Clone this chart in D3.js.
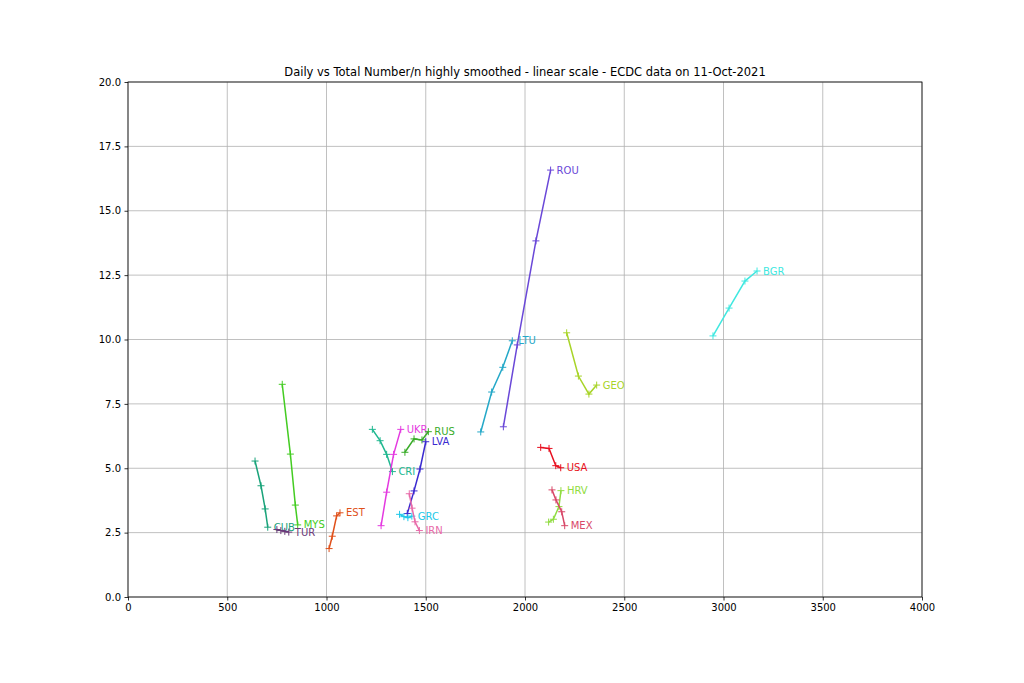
<!DOCTYPE html>
<html><head><meta charset="utf-8">
<script src="https://cdn.jsdelivr.net/npm/d3@7"></script>
<style>body{margin:0;background:#fff;} text{font-family:"DejaVu Sans",sans-serif;}</style>
</head><body>
<svg id="chart" width="1024" height="683"></svg>
<script>
const title = "Daily vs Total Number/n highly smoothed - linear scale - ECDC data on 11-Oct-2021";
const countries = ["CUB","MYS","TUR","EST","CRI","UKR","RUS","LVA","GRC","IRN","LTU","ROU","GEO","USA","HRV","MEX","BGR"];
const colors = ["#1aa37a","#44cc22","#6b3a7a","#e0501a","#20b890","#e43ae0","#3aac2a","#3a2ad0","#20c8e8","#e86aa8","#24a8c8","#6a48d8","#a8d428","#e81020","#90dc40","#d84868","#40e8e0"];
// total (x) values per country, oldest -> latest (label at latest)
const xCUB=[640,670,691,704], yCUB=[5.28,4.32,3.42,2.71];
const xMYS=[777,818,843,855], yMYS=[8.26,5.55,3.57,2.80];
const xTUR=[750,770,790,810], yTUR=[2.62,2.58,2.55,2.52];
const xEST=[1013,1029,1051,1068], yEST=[1.88,2.36,3.15,3.27];
const xCRI=[1231,1270,1303,1332], yCRI=[6.51,6.07,5.54,4.87];
const xUKR=[1275,1303,1338,1374], yUKR=[2.77,4.07,5.54,6.51];
const xRUS=[1395,1441,1481,1513], yRUS=[5.62,6.14,6.10,6.42];
const xLVA=[1407,1441,1471,1500], yLVA=[3.24,4.12,4.97,6.03];
const xGRC=[1368,1390,1410,1430], yGRC=[3.21,3.12,3.08,3.14];
const xIRN=[1417,1431,1446,1468], yIRN=[4.01,3.45,2.92,2.58];
const xLTU=[1777,1832,1888,1936], yLTU=[6.41,7.96,8.92,9.95];
const xROU=[1891,1961,2055,2129], yROU=[6.61,9.79,13.83,16.58];
const xGEO=[2210,2269,2322,2361], yGEO=[10.26,8.58,7.88,8.23];
const xUSA=[2079,2121,2155,2180], yUSA=[5.81,5.77,5.10,5.02];
const xHRV=[2119,2143,2171,2181], yHRV=[2.91,3.02,3.51,4.13];
const xMEX=[2136,2156,2185,2200], yMEX=[4.16,3.77,3.31,2.77];
const xBGR=[2947,3028,3108,3169], yBGR=[10.14,11.22,12.27,12.66];
const xTicks=[0,500,1000,1500,2000,2500,3000,3500,4000];
const yTicks=[0,2.5,5,7.5,10,12.5,15,17.5,20];

const seriesX={CUB:xCUB,MYS:xMYS,TUR:xTUR,EST:xEST,CRI:xCRI,UKR:xUKR,RUS:xRUS,LVA:xLVA,GRC:xGRC,IRN:xIRN,LTU:xLTU,ROU:xROU,GEO:xGEO,USA:xUSA,HRV:xHRV,MEX:xMEX,BGR:xBGR};
const seriesY={CUB:yCUB,MYS:yMYS,TUR:yTUR,EST:yEST,CRI:yCRI,UKR:yUKR,RUS:yRUS,LVA:yLVA,GRC:yGRC,IRN:yIRN,LTU:yLTU,ROU:yROU,GEO:yGEO,USA:yUSA,HRV:yHRV,MEX:yMEX,BGR:yBGR};

const svg=d3.select("#chart");
const L=128,R=922,T=82,B=597;
const x=d3.scaleLinear().domain([0,4000]).range([L,R]);
const y=d3.scaleLinear().domain([0,20]).range([B,T]);

// grid
const g=svg.append("g");
g.selectAll(".vx").data(xTicks).join("line").attr("x1",d=>x(d)).attr("x2",d=>x(d)).attr("y1",T).attr("y2",B).attr("stroke","#b0b0b0").attr("stroke-width",0.8);
g.selectAll(".hy").data(yTicks).join("line").attr("y1",d=>y(d)).attr("y2",d=>y(d)).attr("x1",L).attr("x2",R).attr("stroke","#b0b0b0").attr("stroke-width",0.8);

// axes
const xa=svg.append("g").attr("transform",`translate(0,${B})`).call(d3.axisBottom(x).tickValues(xTicks).tickFormat(d3.format("d")).tickSize(3.5).tickPadding(3.5));
const ya=svg.append("g").attr("transform",`translate(${L},0)`).call(d3.axisLeft(y).tickValues(yTicks).tickFormat(d3.format(".1f")).tickSize(3.5).tickPadding(3.5));
[xa,ya].forEach(a=>{a.select(".domain").remove();a.selectAll("text").attr("font-size",10).attr("fill","#000").attr("font-family","DejaVu Sans");a.selectAll("line").attr("stroke","#000").attr("stroke-width",0.8);});

// series
countries.forEach((c,i)=>{
  const pts=seriesX[c].map((v,j)=>[v,seriesY[c][j]]);
  const col=colors[i];
  svg.append("path").datum(pts).attr("fill","none").attr("stroke",col).attr("stroke-width",1.5)
    .attr("d",d3.line().x(d=>x(d[0])).y(d=>y(d[1])));
  const m=svg.append("g");
  pts.forEach(p=>{
    const px=x(p[0]),py=y(p[1]);
    m.append("line").attr("x1",px-3.5).attr("x2",px+3.5).attr("y1",py).attr("y2",py).attr("stroke",col).attr("stroke-width",1);
    m.append("line").attr("x1",px).attr("x2",px).attr("y1",py-3.5).attr("y2",py+3.5).attr("stroke",col).attr("stroke-width",1);
  });
  const last=pts[pts.length-1];
  svg.append("text").attr("x",x(last[0])+6).attr("y",y(last[1])+3.5).attr("font-size",10).attr("fill",col).text(c);
});

// frame
svg.append("rect").attr("x",L).attr("y",T).attr("width",R-L).attr("height",B-T).attr("fill","none").attr("stroke","#000").attr("stroke-width",0.8);

svg.append("text").attr("x",(L+R)/2).attr("y",T-6).attr("text-anchor","middle").attr("font-size",11.5).attr("fill","#000").text(title);
</script>
</body></html>
